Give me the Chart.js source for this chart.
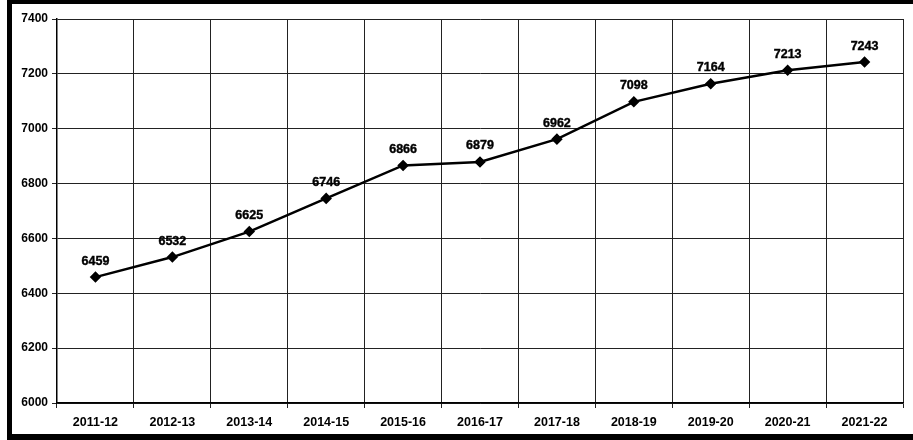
<!DOCTYPE html>
<html>
<head>
<meta charset="utf-8">
<script src="https://cdn.jsdelivr.net/npm/chart.js@4/dist/chart.umd.min.js"></script>
<style>
  html, body { margin: 0; padding: 0; background: #fff; }
  body { width: 913px; height: 440px; position: relative; overflow: hidden; }
  #frame { position: absolute; left: 7px; top: 0px; width: 930px; height: 430px;
           border-top: 4px solid #000; border-left: 5px solid #000; border-bottom: 6px solid #000; }
  #wrap { position: absolute; left: 0; top: 0; width: 913px; height: 440px; }
</style>
</head>
<body>
<div id="frame"></div>
<div id="wrap"><canvas id="c" width="913" height="440"></canvas></div>
<script>
const categories = ['2011-12','2012-13','2013-14','2014-15','2015-16','2016-17','2017-18','2018-19','2019-20','2020-21','2021-22'];
const values = [6459, 6532, 6625, 6746, 6866, 6879, 6962, 7098, 7164, 7213, 7243];
const yMin = 6000, yMax = 7400, yStep = 200;

const FONT = '"Liberation Sans", Arial, sans-serif';

const labelPlugin = {
  id: 'pointLabels',
  afterDatasetsDraw(chart) {
    const ctx = chart.ctx;
    const meta = chart.getDatasetMeta(0);
    ctx.save();
    ctx.font = 'bold 12.5px ' + FONT;
    ctx.fillStyle = '#000';
    ctx.strokeStyle = '#000';
    ctx.lineWidth = 0.4;
    ctx.textAlign = 'center';
    ctx.textBaseline = 'middle';
    meta.data.forEach((pt, i) => {
      ctx.fillText(String(values[i]), pt.x, pt.y - 16);
      ctx.strokeText(String(values[i]), pt.x, pt.y - 16);
    });
    ctx.restore();
  }
};

new Chart(document.getElementById('c'), {
  type: 'line',
  data: {
    labels: categories,
    datasets: [{
      data: values,
      borderColor: '#000',
      backgroundColor: '#000',
      borderWidth: 2.5,
      pointStyle: 'rectRot',
      pointRadius: 4,
      pointBackgroundColor: '#000',
      pointBorderColor: '#000',
      tension: 0
    }]
  },
  options: {
    responsive: false,
    animation: false,
    layout: { padding: { left: 0, right: 10, top: 19, bottom: 0 } },
    plugins: { legend: { display: false }, tooltip: { enabled: false } },
    scales: {
      x: {
        offset: true,
        grid: { offset: true, color: '#222', lineWidth: 1, tickLength: 5, drawTicks: true },
        border: { color: '#000', width: 1.5 },
        ticks: { color: '#000', padding: 7, font: { family: FONT, size: 12.5, weight: 'bold' }, maxRotation: 0 },
        afterFit(s) { s.height = 37; }
      },
      y: {
        min: yMin, max: yMax,
        grid: { color: '#222', lineWidth: 1, tickLength: 5 },
        border: { color: '#000', width: 1.5 },
        ticks: { stepSize: yStep, color: '#000', padding: 4, font: { family: FONT, size: 12, weight: 'bold' },
                 callback: v => String(v) },
        afterFit(s) { s.width = 57; }
      }
    }
  },
  plugins: [labelPlugin]
});
</script>
</body>
</html>
